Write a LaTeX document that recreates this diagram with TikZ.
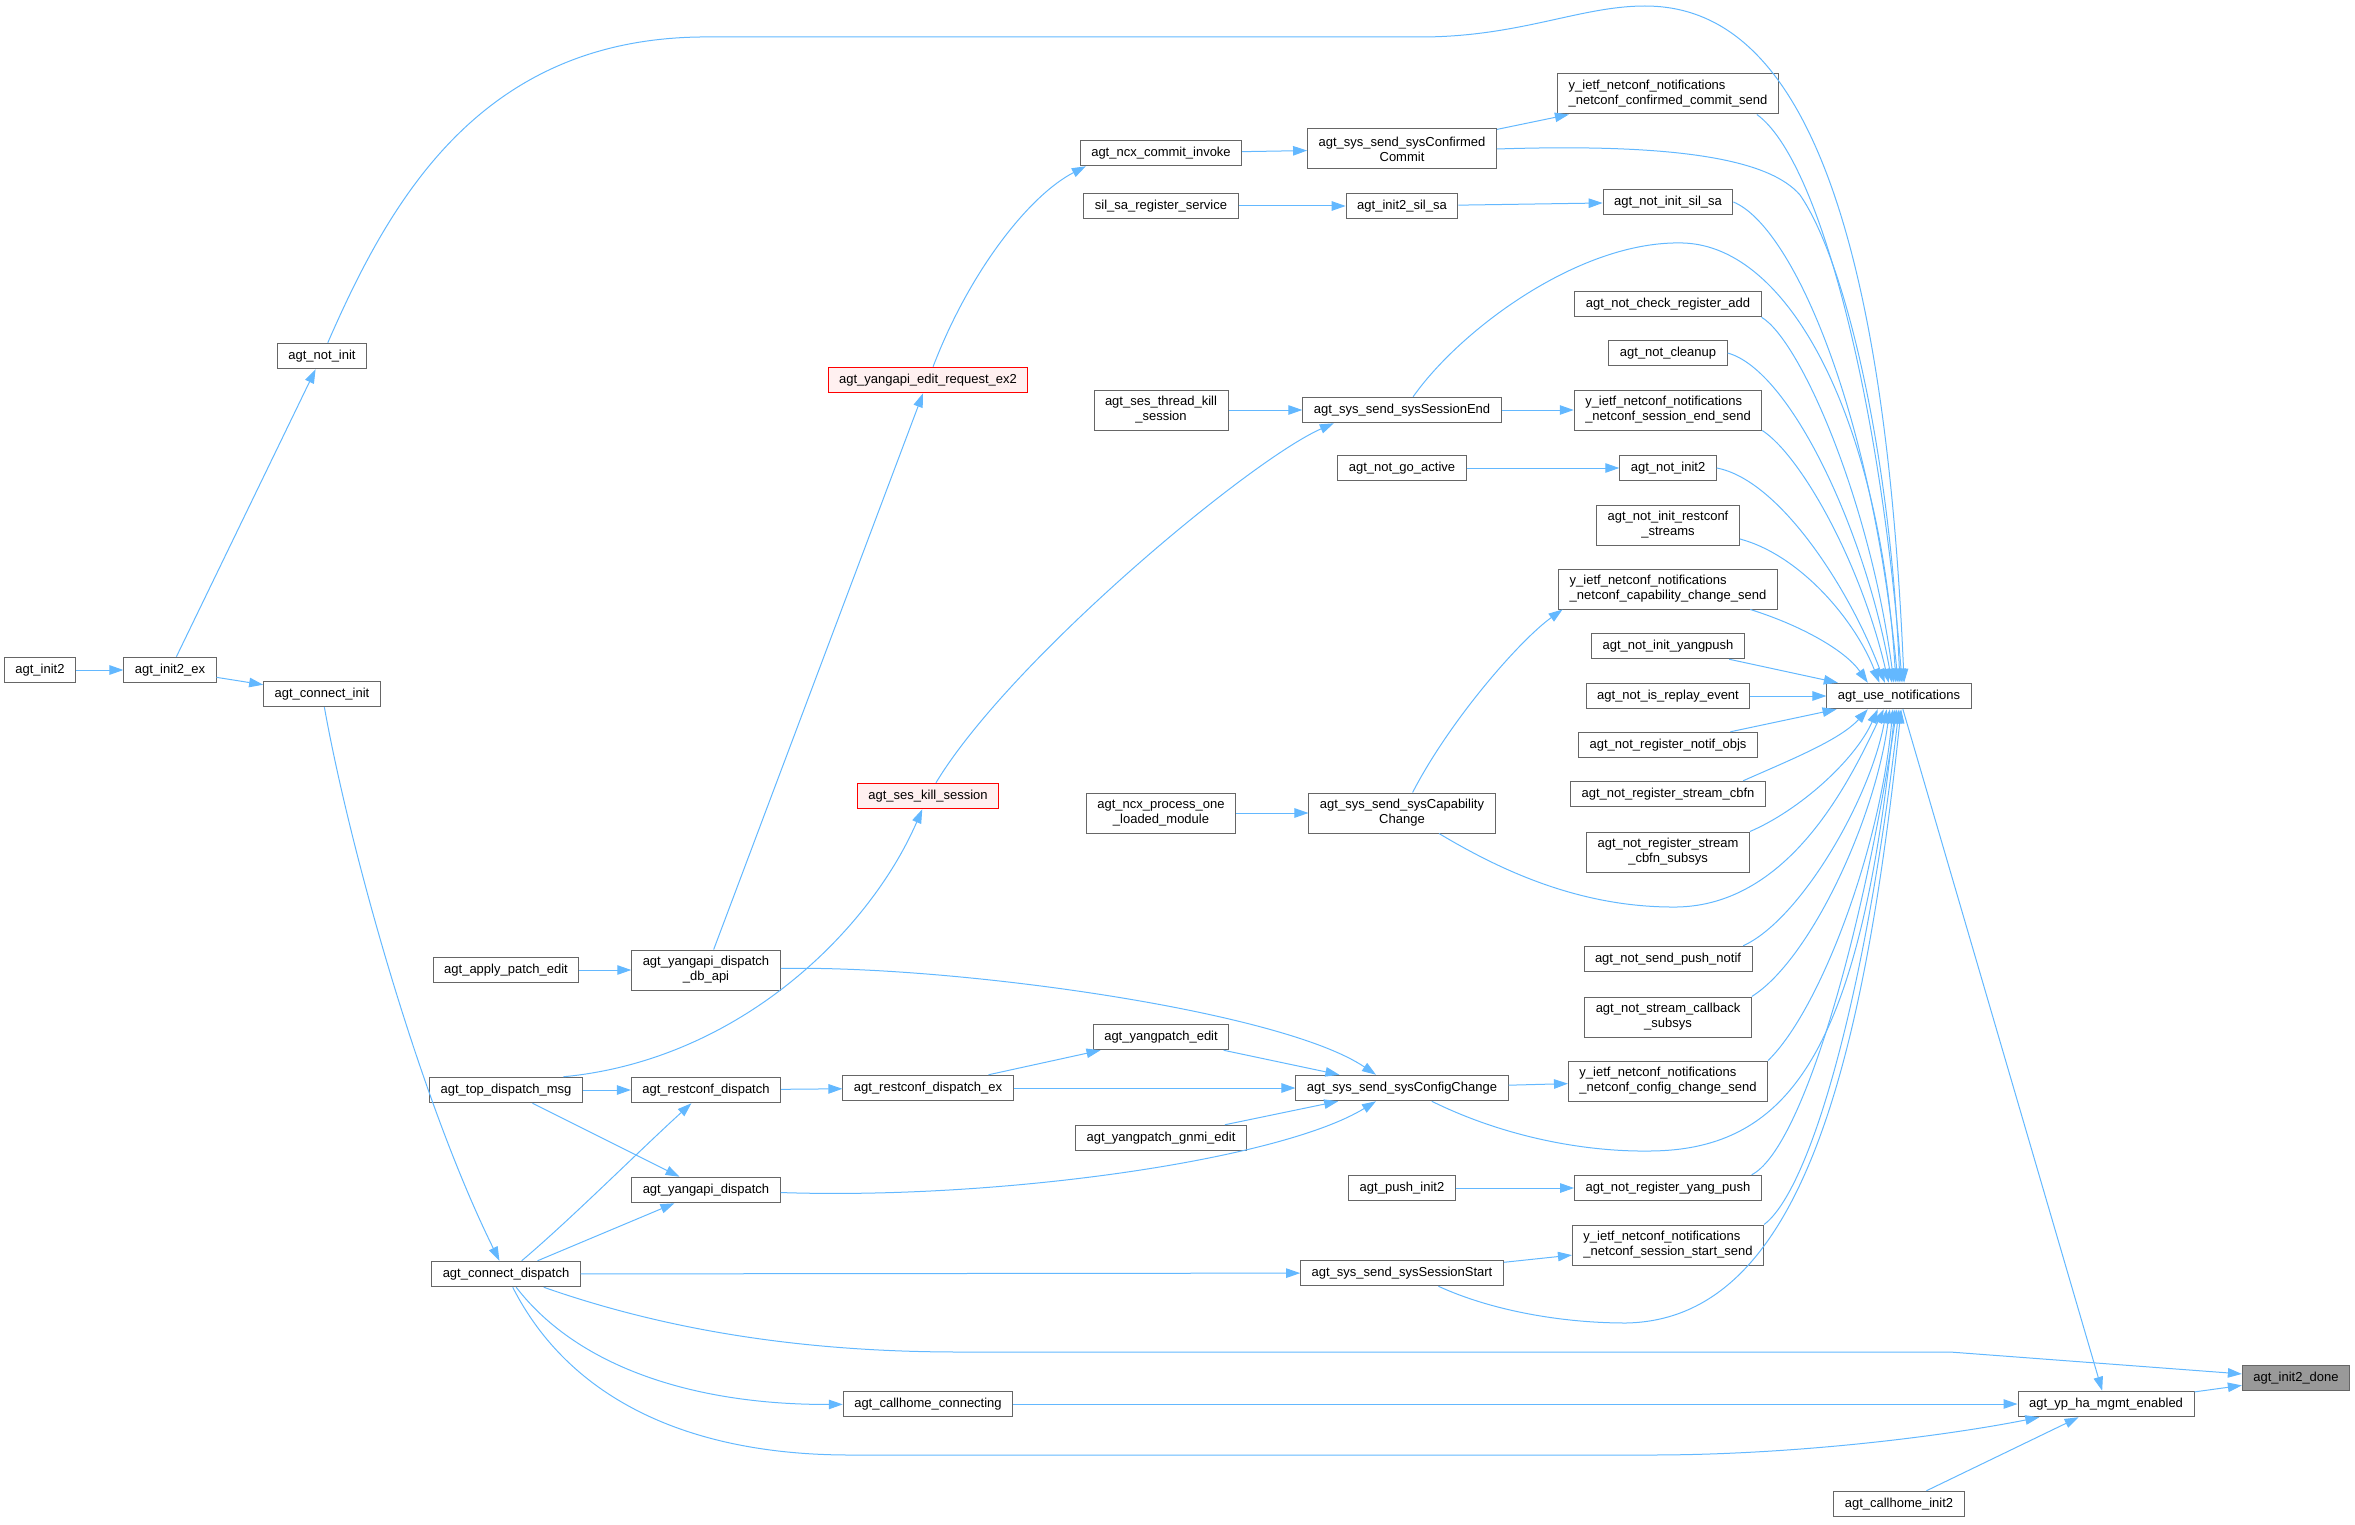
\documentclass[tikz,border=0pt]{standalone}
\usepackage{fontspec}
\setmainfont{Liberation Sans}
\usetikzlibrary{arrows.meta}

\definecolor{edgeblue}{HTML}{63B8FF}
\definecolor{boxgray}{HTML}{666666}
\definecolor{selgray}{HTML}{999999}
\definecolor{redfill}{HTML}{FFF0F0}

\tikzset{
  fnbox/.style={draw=boxgray, line width=1pt, fill=white, font=\fontsize{13}{15}\selectfont,
    inner xsep=11pt, inner ysep=3pt, minimum height=25.5pt, align=center},
  fntwo/.style={fnbox, minimum height=40pt},
  fnred/.style={fnbox, draw=red, fill=redfill},
  fnsel/.style={fnbox, fill=selgray},
  callarrow/.style={draw=edgeblue, line width=1pt, -{Triangle[length=14pt,width=9.5pt]}}
}

\begin{document}
\begin{tikzpicture}[x=1pt, y=-1pt]
    \useasboundingbox (0,0) rectangle (2355,1525);

    % Nodi a sinistra
    \node[fnbox] (init2) at (40,670) {agt\_init2};
    \node[fnbox] (init2ex) at (170,670) {agt\_init2\_ex};
    \node[fnbox] (notinit) at (322,356) {agt\_not\_init};
    \node[fnbox] (conninit) at (322,694) {agt\_connect\_init};
    \node[fnbox] (applypatch) at (506,970) {agt\_apply\_patch\_edit};
    \node[fnbox] (topdispatch) at (506,1090) {agt\_top\_dispatch\_msg};
    \node[fnbox] (conndispatch) at (506,1274) {agt\_connect\_dispatch};
    \node[fntwo] (dbapi) at (706,970) {agt\_yangapi\_dispatch\\\_db\_api};
    \node[fnbox] (restconfdisp) at (706,1090) {agt\_restconf\_dispatch};
    \node[fnbox] (yangapidisp) at (706,1190) {agt\_yangapi\_dispatch};

    % Nodi al centro
    \node[fnred] (editreq) at (928,380) {agt\_yangapi\_edit\_request\_ex2};
    \node[fnred] (seskill) at (928,796) {agt\_ses\_kill\_session};
    \node[fnbox] (restconfex) at (928,1088) {agt\_restconf\_dispatch\_ex};
    \node[fnbox] (callhomeconn) at (928,1404) {agt\_callhome\_connecting};
    \node[fnbox] (commitinvoke) at (1161,153) {agt\_ncx\_commit\_invoke};
    \node[fnbox] (silsareg) at (1161,206) {sil\_sa\_register\_service};
    \node[fntwo] (threadkill) at (1161,410) {agt\_ses\_thread\_kill\\\_session};
    \node[fntwo] (processone) at (1161,813) {agt\_ncx\_process\_one\\\_loaded\_module};
    \node[fnbox] (yangpatchedit) at (1161,1037) {agt\_yangpatch\_edit};
    \node[fnbox] (gnmiedit) at (1161,1138) {agt\_yangpatch\_gnmi\_edit};
    \node[fntwo] (confirmed) at (1402,149) {agt\_sys\_send\_sysConfirmed\\Commit};
    \node[fnbox] (initsilsa) at (1402,206) {agt\_init2\_sil\_sa};
    \node[fnbox] (sessionend) at (1402,410) {agt\_sys\_send\_sysSessionEnd};
    \node[fnbox] (goactive) at (1402,468) {agt\_not\_go\_active};
    \node[fntwo] (capability) at (1402,813) {agt\_sys\_send\_sysCapability\\Change};
    \node[fnbox] (configchange) at (1402,1088) {agt\_sys\_send\_sysConfigChange};
    \node[fnbox] (pushinit) at (1402,1188) {agt\_push\_init2};
    \node[fnbox] (sessionstart) at (1402,1273) {agt\_sys\_send\_sysSessionStart};

    % Nodi a destra
    \node[fntwo, align=left] (ycommit) at (1668,94) {y\_ietf\_netconf\_notifications\\\_netconf\_confirmed\_commit\_send};
    \node[fnbox] (notsilsa) at (1668,202) {agt\_not\_init\_sil\_sa};
    \node[fnbox] (checkreg) at (1668,304) {agt\_not\_check\_register\_add};
    \node[fnbox] (cleanup) at (1668,353) {agt\_not\_cleanup};
    \node[fntwo, align=left] (ysessend) at (1668,410) {y\_ietf\_netconf\_notifications\\\_netconf\_session\_end\_send};
    \node[fnbox] (notinit2) at (1668,468) {agt\_not\_init2};
    \node[fntwo] (restconfstreams) at (1668,525) {agt\_not\_init\_restconf\\\_streams};
    \node[fntwo, align=left] (ycapability) at (1668,589) {y\_ietf\_netconf\_notifications\\\_netconf\_capability\_change\_send};
    \node[fnbox] (yangpush) at (1668,646) {agt\_not\_init\_yangpush};
    \node[fnbox] (replay) at (1668,696) {agt\_not\_is\_replay\_event};
    \node[fnbox] (notifobjs) at (1668,745) {agt\_not\_register\_notif\_objs};
    \node[fnbox] (streamcbfn) at (1668,794) {agt\_not\_register\_stream\_cbfn};
    \node[fntwo] (cbfnsubsys) at (1668,852) {agt\_not\_register\_stream\\\_cbfn\_subsys};
    \node[fnbox] (pushnotif) at (1668,959) {agt\_not\_send\_push\_notif};
    \node[fntwo] (callbacksubsys) at (1668,1017) {agt\_not\_stream\_callback\\\_subsys};
    \node[fntwo, align=left] (yconfig) at (1668,1081) {y\_ietf\_netconf\_notifications\\\_netconf\_config\_change\_send};
    \node[fnbox] (regyangpush) at (1668,1188) {agt\_not\_register\_yang\_push};
    \node[fntwo, align=left] (ysesstart) at (1668,1245) {y\_ietf\_netconf\_notifications\\\_netconf\_session\_start\_send};
    \node[fnbox] (usenotif) at (1899,696) {agt\_use\_notifications};
    \node[fnbox] (callhomeinit) at (1899,1504) {agt\_callhome\_init2};
    \node[fnbox] (ypha) at (2106,1404) {agt\_yp\_ha\_mgmt\_enabled};
    \node[fnsel] (done) at (2296,1378) {agt\_init2\_done};

    % Archi a sinistra
    \draw[callarrow] (init2) -- (init2ex);
    \draw[callarrow] (init2ex) -- (notinit);
    \draw[callarrow] (init2ex) -- (conninit);
    \draw[callarrow] (conninit) .. controls (350,850) and (420,1100) .. (conndispatch);
    \draw[callarrow] (applypatch) -- (dbapi);
    \draw[callarrow] (topdispatch) -- (restconfdisp);
    \draw[callarrow] (topdispatch) -- (yangapidisp);
    \draw[callarrow] (topdispatch.13) .. controls (740,1060) and (870,930) .. (seskill);
    \draw[callarrow] (conndispatch) .. controls (570,1220) and (640,1150) .. (restconfdisp);
    \draw[callarrow] (conndispatch) -- (yangapidisp);
    \draw[callarrow] (conndispatch) -- (sessionstart);
    \draw[callarrow] (conndispatch) .. controls (680,1335) and (820,1352) .. (960,1352) -- (1950,1352) -- (done);
    \draw[callarrow] (conndispatch) .. controls (580,1370) and (700,1405) .. (callhomeconn);
    \draw[callarrow] (conndispatch) .. controls (570,1400) and (690,1455) .. (850,1455) -- (1650,1455)
        .. controls (1800,1455) and (1950,1435) .. (ypha);
    \draw[callarrow] (dbapi) -- (editreq);
    \draw[callarrow] (dbapi) .. controls (950,965) and (1280,1010) .. (configchange.153);
    \draw[callarrow] (restconfdisp) -- (restconfex);
    \draw[callarrow] (yangapidisp) .. controls (1000,1200) and (1280,1160) .. (configchange.207);

    % Archi al centro
    \draw[callarrow] (editreq) .. controls (970,270) and (1030,195) .. (commitinvoke.190);
    \draw[callarrow] (seskill) .. controls (1010,660) and (1250,460) .. (sessionend.191);
    \draw[callarrow] (restconfex) -- (yangpatchedit);
    \draw[callarrow] (restconfex) -- (configchange);
    \draw[callarrow] (yangpatchedit) -- (configchange);
    \draw[callarrow] (gnmiedit) -- (configchange);
    \draw[callarrow] (callhomeconn) -- (ypha);
    \draw[callarrow] (commitinvoke) -- (confirmed);
    \draw[callarrow] (silsareg) -- (initsilsa);
    \draw[callarrow] (threadkill) -- (sessionend);
    \draw[callarrow] (processone) -- (capability);
    \draw[callarrow] (confirmed) -- (ycommit);
    \draw[callarrow] (initsilsa) -- (notsilsa);
    \draw[callarrow] (sessionend) -- (ysessend);
    \draw[callarrow] (goactive) -- (notinit2);
    \draw[callarrow] (capability) .. controls (1450,720) and (1520,640) .. (ycapability.191);
    \draw[callarrow] (configchange) -- (yconfig);
    \draw[callarrow] (pushinit) -- (regyangpush);
    \draw[callarrow] (sessionstart) -- (ysesstart);

    % Archi verso agt_use_notifications
    \draw[callarrow] (notinit) .. controls (390,200) and (480,40) .. (700,37) -- (1420,37)
        .. controls (1520,37) and (1580,6) .. (1645,6) .. controls (1760,6) and (1880,120) .. (usenotif.69);
    \draw[callarrow] (ycommit.347) .. controls (1820,160) and (1880,400) .. (usenotif.77);
    \draw[callarrow] (confirmed.east) .. controls (1680,143) and (1770,160) .. (1800,195)
        .. controls (1845,260) and (1890,450) .. (usenotif.86);
    \draw[callarrow] (notsilsa.east) .. controls (1790,225) and (1870,400) .. (usenotif.94);
    \draw[callarrow] (sessionend.50) .. controls (1460,330) and (1580,240) .. (1683,243)
        .. controls (1790,246) and (1880,420) .. (usenotif.103);
    \draw[callarrow] (checkreg.south east) .. controls (1800,340) and (1870,500) .. (usenotif.111);
    \draw[callarrow] (cleanup.east) .. controls (1790,370) and (1865,530) .. (usenotif.118);
    \draw[callarrow] (ysessend.south east) .. controls (1800,455) and (1860,560) .. (usenotif.128);
    \draw[callarrow] (notinit2.east) .. controls (1780,480) and (1850,590) .. (usenotif.137);
    \draw[callarrow] (restconfstreams.349) .. controls (1800,555) and (1855,620) .. (usenotif.146);
    \draw[callarrow] (ycapability.346) .. controls (1800,625) and (1845,650) .. (usenotif.157);
    \draw[callarrow] (yangpush) -- (usenotif);
    \draw[callarrow] (replay) -- (usenotif);
    \draw[callarrow] (notifobjs) -- (usenotif);
    \draw[callarrow] (streamcbfn.10) .. controls (1790,760) and (1840,740) .. (usenotif.203);
    \draw[callarrow] (cbfnsubsys.north east) .. controls (1800,810) and (1855,760) .. (usenotif.212);
    \draw[callarrow] (capability.331) .. controls (1500,870) and (1580,908) .. (1677,907)
        .. controls (1790,905) and (1850,780) .. (usenotif.221);
    \draw[callarrow] (pushnotif.10) .. controls (1800,920) and (1870,800) .. (usenotif.227);
    \draw[callarrow] (callbacksubsys.north east) .. controls (1810,960) and (1875,820) .. (usenotif.235);
    \draw[callarrow] (yconfig.north east) .. controls (1820,1010) and (1880,850) .. (usenotif.245);
    \draw[callarrow] (configchange.336) .. controls (1500,1135) and (1580,1152) .. (1650,1151)
        .. controls (1790,1150) and (1860,1050) .. (usenotif.253);
    \draw[callarrow] (regyangpush.9) .. controls (1800,1150) and (1860,950) .. (usenotif.261);
    \draw[callarrow] (ysesstart.north east) .. controls (1810,1190) and (1865,1000) .. (usenotif.270);
    \draw[callarrow] (sessionstart.340) .. controls (1490,1310) and (1560,1323) .. (1626,1323)
        .. controls (1790,1320) and (1860,1100) .. (usenotif.279);

    % Archi a destra
    \draw[callarrow] (usenotif) -- (ypha);
    \draw[callarrow] (callhomeinit) -- (ypha);
    \draw[callarrow] (ypha) -- (done);
\end{tikzpicture}
\end{document}
